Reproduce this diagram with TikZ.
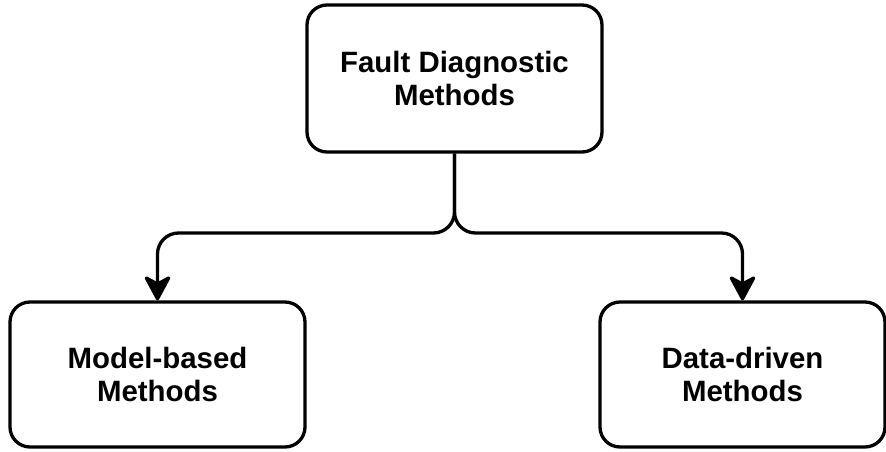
\documentclass[tikz,border=0pt]{standalone}
\usepackage{fontspec}
\setmainfont{Liberation Sans}
\usetikzlibrary{arrows.meta}
\begin{document}
\begin{tikzpicture}[x=1pt,y=-1pt,
  box/.style={draw=black, line width=3.3pt, rounded corners=20pt, fill=white,
    align=center, inner sep=0pt, font=\fontsize{29.4}{33}\selectfont\bfseries},
  conn/.style={draw=black, line width=3.3pt, rounded corners=21pt,
    -{Stealth[length=28pt, width=30pt, inset=8pt, round=false]}}]
\useasboundingbox (0,0) rectangle (886,452);
\node[box, minimum width=295pt, minimum height=147pt] (top) at (454.5,78.5) {Fault Diagnostic\\Methods};
\node[box, minimum width=295pt, minimum height=145pt] (left) at (157.5,374.5) {Model-based\\Methods};
\node[box, minimum width=285pt, minimum height=145pt] (right) at (742.5,374.5) {Data-driven\\Methods};
\coordinate (j) at (454.5,233);
\draw[conn] (top.south) -- (j) -| (left.north);
\draw[conn] (top.south) -- (j) -| (right.north);
\end{tikzpicture}
\end{document}
